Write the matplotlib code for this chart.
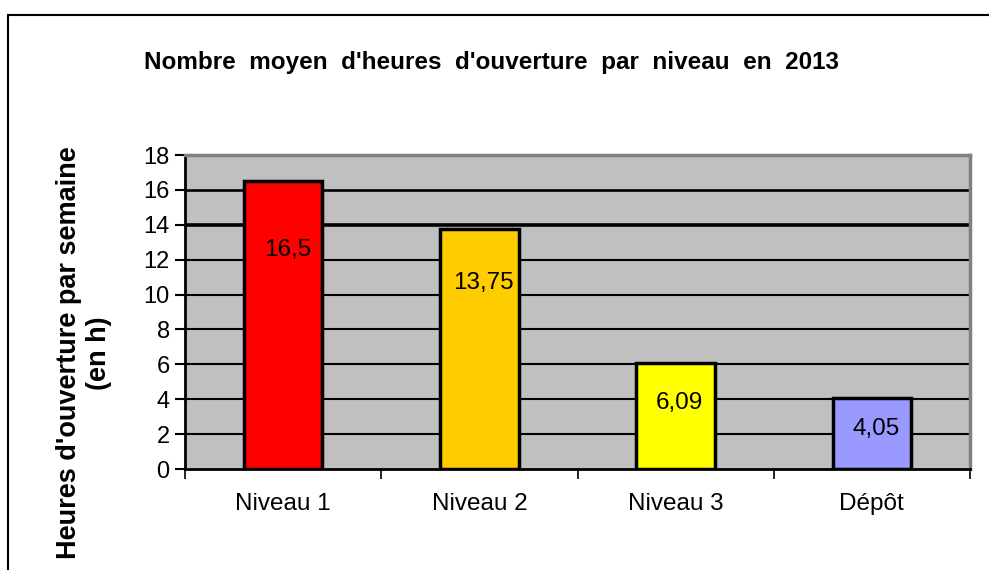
import numpy as np
import matplotlib.pyplot as plt
from matplotlib.patches import Rectangle

plt.rcParams['font.family'] = ['Liberation Sans', 'DejaVu Sans']

categories = ['Niveau 1', 'Niveau 2', 'Niveau 3', 'Dépôt']
heures = [16.5, 13.75, 6.09, 4.05]
labels = ['16,5', '13,75', '6,09', '4,05']
colors = ['#FF0000', '#FFCC00', '#FFFF00', '#9999FF']
# how far below the bar top the value label sits (pixels)
label_drop = [69, 54, 40, 31]

fig = plt.figure(figsize=(9.89, 5.70), dpi=100)
ax = fig.add_axes([185/989, 1-469/570, 785/989, 314/570])
ax.set_facecolor('#C0C0C0')

x = np.arange(len(categories))
bars = ax.bar(x, heures, width=0.4, color=colors, edgecolor='black', linewidth=2.5, zorder=3)

for b, lab, d in zip(bars, labels, label_drop):
    ax.annotate(lab, (b.get_x() + b.get_width()/2, b.get_height()),
                xytext=(3, -d*0.72), textcoords='offset points',
                ha='center', va='center', fontsize=17.5, zorder=4)

ax.set_ylim(0, 18)
ax.set_xlim(-0.5, 3.5)
ax.set_yticks(range(0, 19, 2))
for yv in range(2, 18, 2):
    lw = 2.6 if yv == 14 else (1.9 if yv == 16 else 1.5)
    ax.axhline(yv, color='black', lw=lw, zorder=1)

ax.set_xticks(x)
ax.set_xticklabels(categories, fontsize=17.5)
ax.set_xticks(np.arange(-0.5, 4, 1), minor=True)
ax.tick_params(axis='x', which='major', length=0, pad=17)
ax.tick_params(axis='x', which='minor', length=7, width=1.2, direction='out')
ax.tick_params(axis='y', labelsize=17, length=7, width=1.5, direction='out', pad=4)

ax.spines['left'].set_linewidth(2)
ax.spines['bottom'].set_linewidth(2)
ax.spines['top'].set_color('#808080')
ax.spines['right'].set_color('#808080')
ax.spines['top'].set_linewidth(2.5)
ax.spines['right'].set_linewidth(2.5)

fig.text(491/989, 1-62/570, "Nombre  moyen  d'heures  d'ouverture  par  niveau  en  2013",
         ha='center', va='center', fontsize=17.5, fontweight='bold')
fig.text(84/989, 1-353/570, "Heures d'ouverture par semaine\n(en h)",
         rotation=90, ha='center', va='center', multialignment='center',
         fontsize=19.5, fontweight='bold', linespacing=1.15)

fig.patches.append(Rectangle((8/989, -0.1), 1.2, 1-15/570+0.1, transform=fig.transFigure,
                             fill=False, edgecolor='black', lw=1.5))

fig.savefig('out.png', dpi=100)
